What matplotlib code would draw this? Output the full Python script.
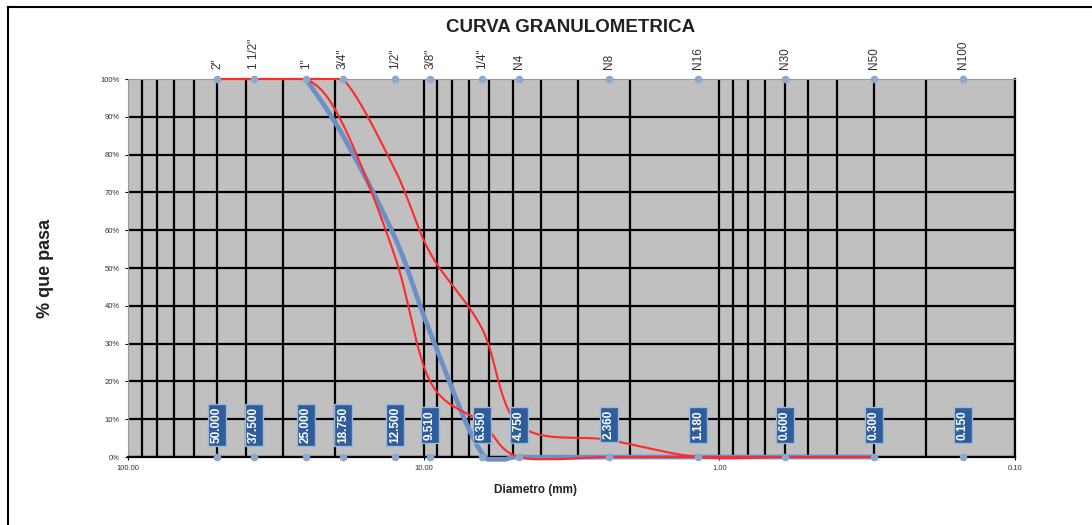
import numpy as np
import matplotlib
matplotlib.use("Agg")
import matplotlib.pyplot as plt
from matplotlib.lines import Line2D

plt.rcParams['font.family'] = ['Liberation Sans', 'DejaVu Sans']

# Tamices (mm) y nombres
tamiz_mm = [50.0, 37.5, 25.0, 18.75, 12.5, 9.51, 6.35, 4.75, 2.36, 1.18, 0.6, 0.3, 0.15]
tamiz_nombre = ['2"', '1 1/2"', '1"', '3/4"', '1/2"', '3/8"', '1/4"', 'N4', 'N8', 'N16', 'N30', 'N50', 'N100']
tamiz_etiqueta = ["50.000", "37.500", "25.000", "18.750", "12.500", "9.510", "6.350",
                  "4.750", "2.360", "1.180", "0.600", "0.300", "0.150"]

# Muestra (% que pasa), desde 1"
muestra_mm = [25.0, 18.75, 12.5, 9.51, 6.35, 4.75, 2.36, 1.18, 0.6, 0.3]
pasa_muestra = [100, 85, 58, 33, 1, 0, 0, 0, 0, 0]

# Limites del huso, desde 2"
huso_mm = [50.0, 37.5, 25.0, 18.75, 12.5, 9.51, 6.35, 4.75, 2.36, 1.18, 0.6, 0.3]
lim_inferior = [100, 100, 100, 88, 53, 20, 9, 0, 0, 0, 0, 0]
lim_superior = [100, 100, 100, 100, 76, 54, 34, 8.5, 4.5, 0, 0, 0]


def suavizar(xs, ys, n=30):
    # curva suavizada tipo Excel (Catmull-Rom en escala log)
    lx = np.log10(np.asarray(xs, float))
    y = np.asarray(ys, float)
    px = np.concatenate([[lx[0]], lx, [lx[-1]]])
    py = np.concatenate([[y[0]], y, [y[-1]]])
    out_x, out_y = [], []
    t = np.linspace(0, 1, n)
    for i in range(1, len(px) - 2):
        for p, out in ((px, out_x), (py, out_y)):
            p0, p1, p2, p3 = p[i - 1], p[i], p[i + 1], p[i + 2]
            out.extend(0.5 * (2 * p1 + (-p0 + p2) * t
                              + (2 * p0 - 5 * p1 + 4 * p2 - p3) * t ** 2
                              + (-p0 + 3 * p1 - 3 * p2 + p3) * t ** 3))
    # el area del grafico recorta el trazo
    return 10 ** np.array(out_x), np.clip(out_y, -0.6, 100)


fig = plt.figure(figsize=(10.92, 5.25), dpi=100)
ax = fig.add_axes([128 / 1092, 1 - 457 / 525, 887 / 1092, 378 / 525])
ax.set_facecolor('#c0c0c0')
ax.set_xscale('log')
ax.set_xlim(100, 0.1)
ax.set_ylim(0, 100)

ax.set_xticks([100, 10, 1, 0.1])
ax.set_xticklabels(["100.00", "10.00", "1.00", "0.10"], fontsize=5.5, color='#333333')
ax.set_yticks(np.arange(0, 101, 10))
ax.set_yticklabels([f"{v}%" for v in range(0, 101, 10)], fontsize=5.5, color='#333333')
ax.tick_params(axis='both', which='both', length=2, width=0.8, pad=4)
ax.tick_params(axis='x', which='minor', length=0)

ax.set_axisbelow(True)
ax.grid(True, axis='x', which='both', color='black', lw=1.6)
ax.grid(True, axis='y', which='major', color='black', lw=1.6)
ax.yaxis.get_major_ticks()[-1].gridline.set_visible(False)
ax.xaxis.get_major_ticks()[0].gridline.set_visible(False)
for s in ['top', 'left']:
    ax.spines[s].set_color('#999999')
    ax.spines[s].set_linewidth(0.8)
ax.spines['bottom'].set_linewidth(1.6)
ax.spines['right'].set_linewidth(1.6)

# curvas
xs, ys = suavizar(muestra_mm, pasa_muestra)
ax.plot(xs, ys, color='#6b8fc6', lw=3.4, solid_capstyle='round', zorder=3, clip_on=False)
xs, ys = suavizar(huso_mm, lim_inferior)
ax.plot(xs, ys, color='#ff2a2a', lw=1.5, zorder=4, clip_on=False)
xs, ys = suavizar(huso_mm, lim_superior)
ax.plot(xs, ys, color='#ff2a2a', lw=1.5, zorder=4, clip_on=False)

# marcas de tamices arriba y abajo
ax.plot(tamiz_mm, [100] * len(tamiz_mm), 'o', ms=4.5, color='#8aa9cc', clip_on=False, zorder=5)
ax.plot(tamiz_mm, [0] * len(tamiz_mm), 'o', ms=4.5, color='#8aa9cc', clip_on=False, zorder=5)

for d, nom, et in zip(tamiz_mm, tamiz_nombre, tamiz_etiqueta):
    ax.annotate(nom, (d, 100), xytext=(0, 7), textcoords='offset points',
                rotation=90, ha='center', va='bottom', fontsize=8.5, color='#333333',
                annotation_clip=False)
    ax.text(d, 8.5, et, rotation=90, ha='center', va='center', fontsize=8.5,
            color='white', fontweight='bold', zorder=6,
            bbox=dict(boxstyle='square,pad=0.25', fc='#2f5c9a', ec='#9bb7da', lw=1))

fig.text(571 / 1092, 1 - 28 / 525, "CURVA GRANULOMETRICA", ha='center', va='center',
         fontsize=13.5, fontweight='bold', color='#222222')
fig.text(45 / 1092, 1 - 268 / 525, "% que pasa", rotation=90, ha='center', va='center',
         fontsize=13, fontweight='bold', color='#222222')
fig.text(535 / 1092, 1 - 490 / 525, "Diametro (mm)", ha='center', va='center',
         fontsize=8.5, fontweight='bold', color='#222222')

# marco exterior
fig.add_artist(Line2D([8 / 1092, 1.0], [1 - 7 / 525] * 2, color='black', lw=1.5))
fig.add_artist(Line2D([8 / 1092] * 2, [0, 1 - 7 / 525], color='black', lw=1.5))

fig.savefig("out.png", dpi=100)
